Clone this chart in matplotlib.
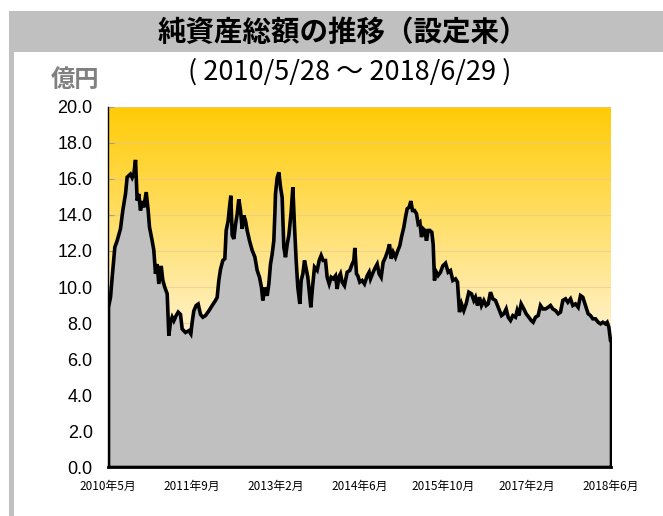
import numpy as np
import matplotlib.pyplot as plt
from matplotlib.colors import LinearSegmentedColormap
from matplotlib.patches import Rectangle

plt.rcParams['font.family'] = ['Noto Sans CJK JP', 'DejaVu Sans']

# months elapsed since inception (2010/5/28) and net assets (100 million yen)
months = [0, 0.39, 0.71, 1.22, 1.67, 2.31, 2.76, 3.28, 3.60, 4.24, 4.57, 4.89, 5.21, 5.53,
          5.85, 6.17, 6.49, 6.82, 7.27, 7.65, 7.91, 8.42, 8.74, 9.07, 9.39, 9.71, 10.16,
          10.48, 10.87, 11.32, 11.64, 11.96, 12.28, 12.60, 13.05, 13.44, 13.89, 14.21,
          14.85, 15.50, 15.88, 16.14, 16.46, 16.91, 17.30, 17.75, 18.20, 18.71, 19.35,
          20.00, 20.64, 20.96, 21.28, 21.60, 22.05, 22.44, 22.70, 23.08, 23.34, 23.60,
          23.86, 24.18, 24.50, 24.82, 25.14, 25.46, 25.78, 26.11, 26.43, 26.75, 27.20,
          27.71, 28.23, 28.68, 29.13, 29.51, 29.77, 30.16, 30.61, 30.93, 31.25, 31.57,
          31.89, 32.09, 32.21, 32.54, 32.86, 33.18, 33.50, 33.82, 34.14, 34.47, 34.79,
          35.24, 35.56, 35.88, 36.20, 36.52, 36.91, 37.17, 37.49, 37.81, 38.19, 38.45,
          38.77, 39.03, 39.35, 39.74, 40.25, 40.64, 41.02, 41.41, 41.86, 42.18, 42.57,
          42.95, 43.34, 43.79, 44.11, 44.43, 44.75, 45.07, 45.52, 46.04, 46.55, 47.00,
          47.32, 47.52, 47.84, 48.10, 48.48, 48.93, 49.38, 49.90, 50.28, 50.54, 51.05,
          51.50, 51.83, 52.21, 52.60, 52.98, 53.43, 53.88, 54.20, 54.53, 54.91, 55.36,
          55.81, 56.20, 56.52, 56.97, 57.29, 57.61, 58.00, 58.32, 58.64, 59.03, 59.41,
          59.73, 60.06, 60.38, 60.70, 61.02, 61.34, 61.66, 61.99, 62.37, 62.63, 62.89,
          63.08, 63.59, 64.04, 64.49, 65.01, 65.52, 65.97, 66.42, 66.94, 67.32, 67.71,
          68.09, 68.54, 68.99, 69.51, 70.02, 70.47, 70.79, 71.18, 71.57, 71.95, 72.40,
          72.85, 73.24, 73.69, 74.14, 74.65, 75.04, 75.42, 75.81, 76.26, 76.71, 77.10,
          77.55, 78.00, 78.51, 78.83, 79.15, 79.60, 80.12, 80.57, 81.08, 81.53, 81.92,
          82.37, 82.88, 83.33, 83.78, 84.30, 84.81, 85.26, 85.71, 86.23, 86.74, 87.19,
          87.64, 88.16, 88.61, 89.12, 89.57, 90.08, 90.60, 91.05, 91.50, 92.01, 92.53,
          92.98, 93.43, 93.94, 94.46, 94.91, 95.36, 95.87, 96.19, 96.52, 96.84, 97.03]
assets = [8.9, 9.46, 10.57, 12.24, 12.6, 13.26, 14.28, 15.2, 16.13, 16.3, 16.1, 16.3, 17.09,
          14.83, 15.2, 14.28, 14.8, 14.45, 15.3, 14.28, 13.35, 12.6, 12.07, 10.76, 11.3,
          10.2, 11.2, 10.4, 10.0, 9.65, 7.33, 8.07, 8.35, 8.15, 8.44, 8.63, 8.5, 7.7, 7.5,
          7.6, 7.43, 8.07, 8.7, 9.0, 9.08, 8.5, 8.35, 8.44, 8.7, 9.0, 9.28, 9.45, 10.39,
          11.0, 11.5, 11.6, 13.17, 13.7, 14.46, 15.1, 12.9, 12.7, 13.5, 14.07, 14.9, 14.3,
          13.26, 14.0, 13.7, 13.17, 12.6, 12.07, 11.7, 10.95, 10.57, 10.0, 9.28, 10.0, 9.54,
          10.2, 11.3, 11.85, 12.6, 14.07, 15.2, 16.1, 16.4, 15.58, 15.0, 12.24, 11.68, 12.4,
          12.9, 14.2, 15.57, 13.4, 11.5, 10.0, 9.09, 10.4, 10.76, 11.5, 10.95, 10.57, 9.65,
          8.9, 10.0, 11.13, 10.95, 11.5, 11.78, 11.5, 11.5, 10.57, 10.2, 10.57, 10.48,
          10.65, 9.92, 10.57, 10.76, 10.3, 10.1, 10.85, 10.95, 11.3, 11.5, 12.2, 10.76,
          10.65, 10.3, 10.39, 10.2, 10.65, 10.85, 10.48, 10.85, 11.13, 11.3, 10.76, 10.57,
          11.4, 11.68, 12.05, 12.4, 11.6, 11.96, 11.68, 12.05, 12.33, 12.8, 13.35, 13.9,
          14.37, 14.46, 14.8, 14.28, 14.28, 14.1, 13.54, 13.63, 12.8, 13.26, 13.17, 12.6,
          13.17, 13.17, 13.07, 12.4, 10.39, 10.94, 10.67, 10.85, 11.2, 11.35, 10.85, 10.94,
          10.39, 10.48, 10.3, 8.63, 9.09, 8.72, 9.09, 9.74, 9.65, 9.28, 9.46, 9.0, 9.46,
          9.0, 9.28, 9.0, 9.09, 9.74, 9.37, 9.28, 9.0, 8.72, 8.44, 8.54, 8.81, 8.35, 8.17,
          8.44, 8.35, 8.72, 8.44, 9.09, 8.81, 8.54, 8.35, 8.17, 8.07, 8.35, 8.44, 9.0,
          8.81, 8.81, 8.9, 9.0, 8.81, 8.72, 8.54, 8.63, 9.28, 9.37, 9.18, 9.37, 9.0, 9.09,
          8.9, 9.55, 9.46, 9.0, 8.54, 8.44, 8.26, 8.26, 8.07, 7.98, 8.07, 7.98, 8.07, 7.8,
          7.05, 7.0]

xtick_labels = ['2010年5月', '2011年9月', '2013年2月', '2014年6月', '2015年10月', '2017年2月', '2018年6月']

fig = plt.figure(figsize=(6.63, 5.16), dpi=100)
W, H = 663.0, 516.0

# gray frame: title band and left bar
fig.add_artist(Rectangle((9 / W, 1 - 52 / H), (W - 9) / W, 41 / H, transform=fig.transFigure,
                         facecolor='#C0C0C0', edgecolor='none'))
fig.add_artist(Rectangle((9 / W, 0), 5 / W, 1 - 11 / H, transform=fig.transFigure,
                         facecolor='#C0C0C0', edgecolor='none'))

fig.text(343 / W, 1 - 33 / H, '純資産総額の推移（設定来）', ha='center', va='center',
         fontsize=20.5, fontweight='bold', color='black')
fig.text(350 / W, 1 - 72 / H, '( 2010/5/28 ～ 2018/6/29 )', ha='center', va='center',
         fontsize=19.5, color='black')
fig.text(75 / W, 1 - 80 / H, '億円', ha='center', va='center', fontsize=17.5,
         fontweight='bold', color='#808080')

ax = fig.add_axes([108 / W, 49 / H, 503 / W, 360 / H])
xend = months[-1]

cmap = LinearSegmentedColormap.from_list('bg', [(0, '#FFFFFF'), (0.3, '#FFF6E0'), (1, '#FFCB05')])
grad = np.linspace(0, 1, 256).reshape(-1, 1)
ax.imshow(grad, cmap=cmap, origin='lower', extent=[0, xend, 0, 20], aspect='auto', zorder=0)

ax.fill_between(months, assets, 0, facecolor='#C0C0C0', edgecolor='black', linewidth=2.6,
                joinstyle='miter', zorder=2)

ax.set_xlim(0, xend)
ax.set_ylim(0, 20)
ax.set_yticks(np.arange(0, 20.1, 2))
ax.set_yticklabels(['%.1f' % v for v in np.arange(0, 20.1, 2)], fontsize=13, family='Liberation Sans')
ax.set_xticks(np.linspace(0, xend, 7))
ax.set_xticklabels(xtick_labels, fontsize=8.5)
ax.tick_params(axis='y', direction='in', length=4, color='#A0A0A0', pad=11)
ax.tick_params(axis='x', direction='in', length=4, color='#A0A0A0', pad=9)
ax.set_axisbelow(True)
ax.yaxis.grid(True, color='#E0C890', linewidth=0.8, alpha=0.6)

for s in ['top', 'right']:
    ax.spines[s].set_visible(False)
ax.spines['left'].set_linewidth(1)
ax.spines['bottom'].set_linewidth(2)

fig.savefig('out.png', dpi=100)
